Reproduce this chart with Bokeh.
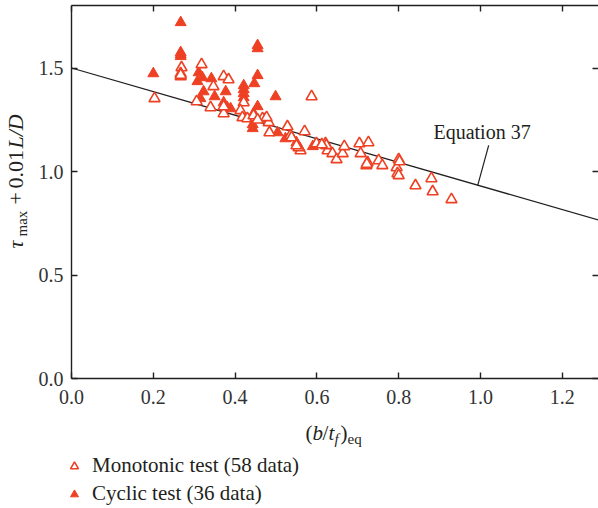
import math
from bokeh.plotting import figure
from bokeh.models import (Range1d, FixedTicker, PrintfTickFormatter, LinearAxis,
                          Label, Legend, LegendItem, Segment, ColumnDataSource)
from bokeh.embed import file_html
from bokeh.resources import INLINE

# ---------------- data ----------------
mono_x = [0.203, 0.269, 0.267, 0.267, 0.318, 0.372, 0.384, 0.347, 0.306, 0.421,
          0.340, 0.413, 0.372, 0.418, 0.430, 0.450, 0.467, 0.482, 0.484, 0.528,
          0.587, 0.570, 0.535, 0.560, 0.599, 0.621, 0.626, 0.638, 0.648, 0.663,
          0.667, 0.704, 0.726, 0.707, 0.724, 0.721, 0.751, 0.760, 0.800, 0.795,
          0.797, 0.800, 0.841, 0.880, 0.883, 0.929, 0.372, 0.477, 0.538, 0.555,
          0.623, 0.267, 0.445, 0.612, 0.802, 0.550, 0.722, 0.455]
mono_y = [1.353, 1.502, 1.473, 1.459, 1.517, 1.459, 1.444, 1.411, 1.338, 1.333,
          1.309, 1.295, 1.280, 1.261, 1.256, 1.261, 1.256, 1.237, 1.188, 1.217,
          1.362, 1.193, 1.174, 1.101, 1.135, 1.135, 1.101, 1.087, 1.058, 1.087,
          1.121, 1.135, 1.140, 1.087, 1.043, 1.029, 1.053, 1.029, 1.058, 1.019,
          0.990, 0.981, 0.932, 0.966, 0.903, 0.865, 1.314, 1.261, 1.164, 1.116,
          1.126, 1.466, 1.270, 1.130, 1.048, 1.125, 1.036, 1.250]

cyc_x = [0.200, 0.267, 0.267, 0.267, 0.267, 0.311, 0.308, 0.320, 0.342, 0.323,
         0.350, 0.377, 0.315, 0.372, 0.381, 0.389, 0.421, 0.421, 0.421, 0.421,
         0.455, 0.455, 0.455, 0.447, 0.499, 0.455, 0.445, 0.447, 0.443, 0.443,
         0.474, 0.504, 0.523, 0.550, 0.557, 0.590]
cyc_y = [1.473, 1.720, 1.575, 1.565, 1.556, 1.478, 1.435, 1.454, 1.449, 1.386,
         1.362, 1.386, 1.353, 1.333, 1.309, 1.304, 1.415, 1.396, 1.377, 1.357,
         1.609, 1.594, 1.464, 1.425, 1.362, 1.314, 1.280, 1.256, 1.227, 1.208,
         1.256, 1.188, 1.159, 1.140, 1.116, 1.121]

eq_intercept = 1.5
eq_slope = -0.57
eq_x = [0.0, 1.3]
eq_y = [eq_intercept + eq_slope * v for v in eq_x]

x_ticks = [0.0, 0.2, 0.4, 0.6, 0.8, 1.0, 1.2]
y_ticks = [0.0, 0.5, 1.0, 1.5]
x_axis_range = (0.0, 1.3)
y_axis_range = (0.0, 1.8)

legend_labels = ["Monotonic test (58 data)", "Cyclic test (36 data)"]
eq_label = "Equation 37"

RED = "#EE4124"
DARK = "#231F20"
FONT = "Liberation Serif"

# frame covers the whole canvas; axes are pinned at data locations
W, H = 598, 508
X0_PX, X_SCALE = 71, 409.0
Y0_PX, Y_SCALE = 378, 207.0
p = figure(width=W, height=H, output_backend="svg", toolbar_location=None,
           x_range=Range1d(-X0_PX / X_SCALE, (W - X0_PX) / X_SCALE),
           y_range=Range1d(-(H - Y0_PX) / Y_SCALE, Y0_PX / Y_SCALE),
           min_border=0, min_border_left=0, min_border_right=0,
           min_border_top=0, min_border_bottom=0,
           x_axis_type=None, y_axis_type=None)
p.grid.visible = False
p.outline_line_color = None
p.background_fill_color = "white"
p.border_fill_color = "white"


def make_axis(ticks, loc, bounds, labels=True, line=True, standoff=8):
    ax = LinearAxis(ticker=FixedTicker(ticks=ticks), fixed_location=loc,
                    bounds=bounds)
    ax.axis_line_color = DARK if line else None
    ax.axis_line_width = 1.4
    ax.major_tick_line_color = DARK
    ax.major_tick_line_width = 1.4
    ax.major_tick_in = 6
    ax.major_tick_out = 0
    ax.minor_tick_in = 0
    ax.minor_tick_out = 0
    ax.major_label_text_font = FONT
    ax.major_label_text_font_size = "20px"
    ax.major_label_standoff = standoff
    ax.formatter = PrintfTickFormatter(format="%.1f")
    ax.major_label_text_color = "#333333" if labels else None
    return ax


p.add_layout(make_axis(x_ticks, y_axis_range[0], x_axis_range, standoff=11), "below")
p.add_layout(make_axis(x_ticks, y_axis_range[1], x_axis_range, labels=False), "above")
p.add_layout(make_axis(y_ticks, x_axis_range[0], y_axis_range, standoff=8), "left")
p.add_layout(make_axis(y_ticks, (W - X0_PX) / X_SCALE, y_axis_range,
                       labels=False, line=False), "right")

# equation line
p.line(eq_x, eq_y, line_color=DARK, line_width=1.3)

r_c = p.scatter(cyc_x, cyc_y, marker="triangle", size=11, fill_color=RED,
                line_color=RED, line_width=1)
r_m = p.scatter(mono_x, mono_y, marker="triangle", size=11, fill_color="white",
                line_color=RED, line_width=1.6)

# equation annotation
p.add_layout(Label(x=0.885, y=1.19, text=eq_label, text_font=FONT,
                   text_font_size="20px", text_color=DARK,
                   text_baseline="alphabetic"))
lead = ColumnDataSource(dict(x0=[1.020], y0=[1.126], x1=[0.993], y1=[0.932]))
p.add_glyph(lead, Segment(x0="x0", y0="y0", x1="x1", y1="y1",
                          line_color=DARK, line_width=1.2))


def lab(x, y, t, size="21px", style="normal", angle=0.0):
    # x, y: canvas pixels (x from left, y from top)
    p.add_layout(Label(x=x, y=H - y, x_units="screen", y_units="screen", text=t,
                       text_font=FONT, text_font_size=size,
                       text_font_style=style, text_color=DARK,
                       text_baseline="alphabetic", text_align="left",
                       angle=angle))


# x-axis label: (b/t_f)_eq
XB = 432
lab(305, XB, "(")
lab(312, XB, "b", style="italic")
lab(322, XB, "/")
lab(328, XB, "t", style="italic")
lab(334, XB + 6, "f", size="15px", style="italic")
lab(340, XB, ")")
lab(347, XB + 6, "eq", size="15px")

# y-axis label: tau_max + 0.01 L/D (rotated)
A = math.pi / 2
YB = 15
lab(YB, 248, "τ", size="22px", style="italic", angle=A)
lab(YB + 6, 236, "max", size="15px", angle=A)
lab(YB, 204, "+", size="22px", angle=A)
lab(YB, 188, "0.01", size="22px", angle=A)
lab(YB, 148, "L/D", size="22px", style="italic", angle=A)

legend = Legend(items=[LegendItem(label=legend_labels[0], renderers=[r_m]),
                       LegendItem(label=legend_labels[1], renderers=[r_c])],
                location=(64, 2), glyph_width=20, glyph_height=20,
                label_height=20, spacing=3, padding=0, margin=0,
                border_line_color=None, background_fill_alpha=0,
                label_text_font=FONT, label_text_font_size="21px",
                label_text_color=DARK, label_standoff=8)
p.add_layout(legend)

open("out.html", "w").write(file_html(p, INLINE))
